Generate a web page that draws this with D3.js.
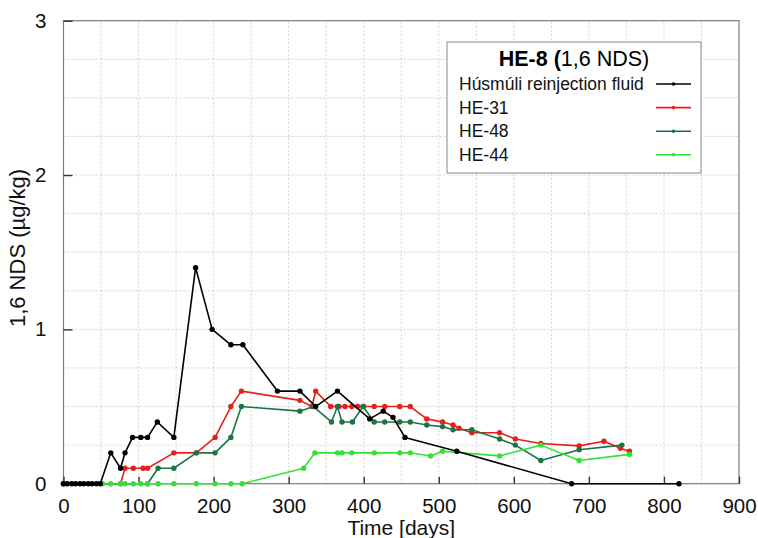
<!DOCTYPE html>
<html>
<head>
<meta charset="utf-8">
<script src="https://cdn.jsdelivr.net/npm/d3@7"></script>
<style>
  html, body { margin: 0; padding: 0; background: #fff; }
  svg { display: block; font-family: "Liberation Sans", Arial, sans-serif; }
</style>
</head>
<body>
<svg id="chart" width="758" height="538"></svg>
<script>
// Sampling days and 1,6 NDS concentrations (µg/kg) per well
const husmuliDays = [0, 5, 11, 16, 22, 27, 33, 38, 44, 49, 63, 76, 82, 92, 103, 112, 125, 147, 176, 198, 223, 239, 285, 315, 336, 365, 408, 426, 439, 455, 524, 677, 820];
const husmuliVals = [0, 0, 0, 0, 0, 0, 0, 0, 0, 0, 0.2, 0.1, 0.2, 0.3, 0.3, 0.3, 0.4, 0.3, 1.4, 1.0, 0.9, 0.9, 0.6, 0.6, 0.5, 0.6, 0.42, 0.47, 0.43, 0.3, 0.21, 0, 0];

const he31Days = [0, 76, 82, 93, 106, 112, 147, 177, 202, 223, 237, 315, 331, 336, 356, 367, 375, 384, 392, 400, 414, 428, 448, 462, 484, 505, 519, 527, 544, 581, 602, 636, 687, 720, 742, 754];
const he31Vals = [0, 0, 0.1, 0.1, 0.1, 0.1, 0.2, 0.2, 0.3, 0.5, 0.6, 0.54, 0.5, 0.6, 0.5, 0.5, 0.5, 0.5, 0.5, 0.5, 0.5, 0.5, 0.5, 0.5, 0.42, 0.40, 0.38, 0.36, 0.33, 0.33, 0.29, 0.26, 0.245, 0.275, 0.23, 0.21];

const he48Days = [0, 112, 126, 147, 177, 202, 223, 237, 315, 333, 357, 365, 371, 385, 399, 414, 428, 448, 462, 484, 505, 519, 544, 581, 602, 636, 687, 744];
const he48Vals = [0, 0, 0.1, 0.1, 0.2, 0.2, 0.3, 0.5, 0.47, 0.5, 0.4, 0.5, 0.4, 0.4, 0.5, 0.4, 0.4, 0.4, 0.4, 0.38, 0.37, 0.35, 0.35, 0.29, 0.25, 0.15, 0.22, 0.25];

const he44Days = [0, 52, 63, 76, 82, 93, 103, 112, 126, 147, 177, 202, 223, 238, 320, 335, 365, 371, 384, 414, 448, 462, 489, 505, 581, 636, 687, 754];
const he44Vals = [0, 0, 0, 0, 0, 0, 0, 0, 0, 0, 0, 0, 0, 0, 0.1, 0.2, 0.2, 0.2, 0.2, 0.2, 0.2, 0.2, 0.18, 0.21, 0.18, 0.25, 0.15, 0.19];

const seriesNames = ["Húsmúli reinjection fluid", "HE-31", "HE-48", "HE-44"];
const seriesColors = ["#000000", "#e3201b", "#1d7344", "#35e035"];

const xTicks = [0, 100, 200, 300, 400, 500, 600, 700, 800, 900];
const yTicks = [0, 1, 2, 3];

const series = [
  { name: seriesNames[0], color: seriesColors[0], days: husmuliDays, vals: husmuliVals },
  { name: seriesNames[1], color: seriesColors[1], days: he31Days, vals: he31Vals },
  { name: seriesNames[2], color: seriesColors[2], days: he48Days, vals: he48Vals },
  { name: seriesNames[3], color: seriesColors[3], days: he44Days, vals: he44Vals }
];

const svg = d3.select("#chart");
const m = { left: 63.5, right: 739, top: 20.7, bottom: 483.7 };

const x = d3.scaleLinear().domain([0, 900]).range([m.left, m.right]);
const y = d3.scaleLinear().domain([0, 3]).range([m.bottom, m.top]);

// dotted grid: every 50 days and every 0.25 µg/kg
const grid = svg.append("g").attr("stroke", "#c8c8c8").attr("stroke-width", 0.8).attr("stroke-dasharray", "2,2");
d3.range(50, 900, 50).forEach(d => {
  grid.append("line").attr("x1", x(d)).attr("x2", x(d)).attr("y1", y(0)).attr("y2", y(3));
});
d3.range(0.25, 3, 0.25).forEach(v => {
  grid.append("line").attr("x1", x(0)).attr("x2", x(900)).attr("y1", y(v)).attr("y2", y(v));
});

// frame
svg.append("rect")
  .attr("x", x(0)).attr("y", y(3))
  .attr("width", x(900) - x(0)).attr("height", y(0) - y(3))
  .attr("fill", "none").attr("stroke", "#7a7a7a").attr("stroke-width", 1.2);

// axes with inward ticks
const xAxis = d3.axisBottom(x).tickValues(xTicks).tickSize(-7).tickPadding(15).tickFormat(d3.format("d"));
const gx = svg.append("g").attr("transform", `translate(0,${y(0)})`).call(xAxis);
gx.select(".domain").remove();
gx.selectAll(".tick line").attr("stroke", "#333").attr("stroke-width", 1.4);
gx.selectAll(".tick text").attr("font-size", 20.5).attr("fill", "#111").attr("font-family", "Liberation Sans, Arial, sans-serif");

const yAxis = d3.axisLeft(y).tickValues(yTicks).tickSize(-9).tickPadding(17).tickFormat(d3.format("d"));
const gy = svg.append("g").attr("transform", `translate(${x(0)},0)`).call(yAxis);
gy.select(".domain").remove();
gy.selectAll(".tick line").attr("stroke", "#333").attr("stroke-width", 1.4);
gy.selectAll(".tick text").attr("font-size", 20.5).attr("fill", "#111").attr("font-family", "Liberation Sans, Arial, sans-serif");

// axis titles
svg.append("text")
  .attr("x", (x(0) + x(900)) / 2).attr("y", 535)
  .attr("text-anchor", "middle").attr("font-size", 21).attr("fill", "#111")
  .text("Time [days]");

svg.append("text")
  .attr("transform", `translate(25,${248}) rotate(-90)`)
  .attr("text-anchor", "middle").attr("font-size", 22).attr("fill", "#111")
  .text("1,6 NDS (µg/kg)");

// series lines and markers
const line = d3.line().x(d => x(d[0])).y(d => y(d[1]));
const drawOrder = [1, 2, 3, 0];
drawOrder.forEach(i => {
  const s = series[i];
  const pts = s.days.map((d, k) => [d, s.vals[k]]);
  const g = svg.append("g");
  g.append("path").datum(pts)
    .attr("d", line).attr("fill", "none")
    .attr("stroke", s.color).attr("stroke-width", 1.6).attr("stroke-linejoin", "round");
  g.selectAll("circle").data(pts).join("circle")
    .attr("cx", d => x(d[0])).attr("cy", d => y(d[1]))
    .attr("r", 2.7).attr("fill", s.color);
});

// legend
const lg = svg.append("g");
lg.append("rect")
  .attr("x", 447).attr("y", 42).attr("width", 254).attr("height", 131)
  .attr("fill", "#fff").attr("stroke", "#8a8a8a").attr("stroke-width", 1);

const title = lg.append("text")
  .attr("x", 574).attr("y", 66).attr("text-anchor", "middle")
  .attr("font-size", 21.5).attr("fill", "#000");
title.append("tspan").attr("font-weight", "bold").text("HE-8 (");
title.append("tspan").text("1,6 NDS)");

series.forEach((s, i) => {
  const by = 90 + i * 23.6;
  lg.append("text")
    .attr("x", 459).attr("y", by)
    .attr("font-size", 17.5).attr("fill", "#111")
    .text(s.name);
  lg.append("line")
    .attr("x1", 656).attr("x2", 691).attr("y1", by - 6).attr("y2", by - 6)
    .attr("stroke", s.color).attr("stroke-width", 1.6);
  lg.append("circle")
    .attr("cx", 673.5).attr("cy", by - 6).attr("r", 1.8).attr("fill", s.color);
});
</script>
</body>
</html>
